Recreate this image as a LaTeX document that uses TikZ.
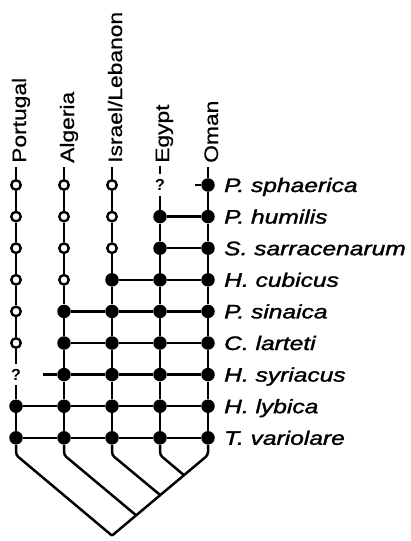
\documentclass[tikz,border=0pt]{standalone}
\usepackage{fontspec}
\setmainfont{Liberation Sans}
\newfontfamily\placefont[FakeBold=0.6]{Liberation Sans}
\newfontfamily\speciesfont[FakeBold=1.4]{Liberation Sans}
\usetikzlibrary{backgrounds}

\begin{document}
\begin{tikzpicture}[x=1pt, y=-1pt,
  wire/.style={line width=2.5pt},
  opendot/.style={circle, draw, line width=2.4pt, fill=white, minimum size=9.5pt, inner sep=0pt},
  fulldot/.style={circle, fill=black, minimum size=13.5pt, inner sep=0pt},
  query/.style={inner sep=0pt, outer sep=5pt, font=\bfseries\fontsize{16}{16}\selectfont},
  dot-o/.style={opendot, node contents={}},
  dot-f/.style={fulldot, node contents={}},
  dot-q/.style={query, node contents={?}},
  country/.style={rotate=90, anchor=base west, inner sep=0pt, font=\placefont\fontsize{19.5}{20}\selectfont},
  species/.style={anchor=base west, inner sep=0pt, font=\speciesfont\itshape\fontsize{19.5}{20}\selectfont},
]
\useasboundingbox (0,0) rectangle (411,541);

% character states: one row per species, one column per locality
\foreach \r/\y/\a/\b/\c/\d/\e in {
  1/185/o/o/o/q/f,
  2/216.6/o/o/o/f/f,
  3/248.2/o/o/o/f/f,
  4/279.8/o/o/f/f/f,
  5/311.4/o/f/f/f/f,
  6/343/o/f/f/f/f,
  7/374.6/q/f/f/f/f,
  8/406.2/f/f/f/f/f,
  9/437.8/f/f/f/f/f}{
  \node[name=n\r-1, at={(16,\y)}, dot-\a];
  \node[name=n\r-2, at={(64,\y)}, dot-\b];
  \node[name=n\r-3, at={(112,\y)}, dot-\c];
  \node[name=n\r-4, at={(160,\y)}, dot-\d];
  \node[name=n\r-5, at={(208,\y)}, dot-\e];
}

% locality names
\node[country] (loc1) at (26,163) {\scalebox{1.17}[1]{Portugal}};
\node[country] (loc2) at (74,163) {\scalebox{1.17}[1]{Algeria}};
\node[country] (loc3) at (122,163) {\scalebox{1.17}[1]{Israel/Lebanon}};
\node[country] (loc4) at (169,163) {\scalebox{1.17}[1]{Egypt}};
\node[country] (loc5) at (218,163) {\scalebox{1.17}[1]{Oman}};

% species names
\foreach \r/\y/\name in {
  1/185/{P. sphaerica},
  2/216.6/{P. humilis},
  3/248.2/{S. sarracenarum},
  4/279.8/{H. cubicus},
  5/311.4/{P. sinaica},
  6/343/{C. larteti},
  7/374.6/{H. syriacus},
  8/406.2/{H. lybica},
  9/437.8/{T. variolare}}{
  \node[species] (sp\r) at (224,\y+7) {\scalebox{1.26}[1]{\name}};
}

% free ends of the stems and the branching points of the tree
\coordinate (t1) at (16,167);
\coordinate (t2) at (64,167);
\coordinate (t3) at (112,167);
\coordinate (t4) at (160,166);
\coordinate (t5) at (208,167);
\coordinate (s1) at (195,185);
\coordinate (s7) at (43,374.6);
\coordinate (b1) at (16,455);
\coordinate (b2) at (64,455);
\coordinate (b3) at (112,455);
\coordinate (b4) at (160,455);
\coordinate (b5) at (208,455);
\coordinate (root) at (112,535.6);
\coordinate (j2) at (136,515.2);
\coordinate (j3) at (160,494.9);
\coordinate (j4) at (184,475.2);

\begin{scope}[on background layer]
  % columns
  \foreach \c in {1,...,5}{
    \draw[wire] (t\c) -- (n1-\c);
    \foreach \r [evaluate=\r as \s using int(\r+1)] in {1,...,8}
      \draw[wire] (n\r-\c) -- (n\s-\c);
  }
  % rows
  \draw[wire] (s1) -- (n1-5);
  \foreach \r in {2,3}
    \draw[wire] (n\r-4) -- (n\r-5);
  \draw[wire] (n4-3) -- (n4-4) -- (n4-5);
  \foreach \r in {5,6}
    \draw[wire] (n\r-2) -- (n\r-3) -- (n\r-4) -- (n\r-5);
  \draw[wire] (s7) -- (n7-2) -- (n7-3) -- (n7-4) -- (n7-5);
  \foreach \r in {8,9}
    \draw[wire] (n\r-1) -- (n\r-2) -- (n\r-3) -- (n\r-4) -- (n\r-5);
  % tree
  \draw[wire, rounded corners=3pt] (n9-1) -- (b1) -- (root);
  \draw[wire, rounded corners=3pt] (n9-5) -- (b5) -- (root);
  \draw[wire, rounded corners=3pt] (n9-2) -- (b2) -- (j2);
  \draw[wire, rounded corners=3pt] (n9-3) -- (b3) -- (j3);
  \draw[wire, rounded corners=3pt] (n9-4) -- (b4) -- (j4);
\end{scope}
\end{tikzpicture}
\end{document}
